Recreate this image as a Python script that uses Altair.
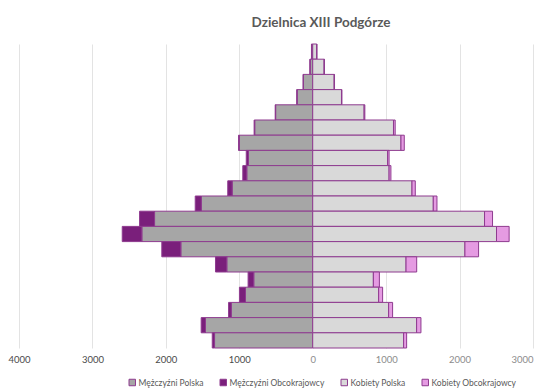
import altair as alt
import pandas as pd

ages = ["95+", "90-94", "85-89", "80-84", "75-79", "70-74", "65-69", "60-64", "55-59", "50-54",
        "45-49", "40-44", "35-39", "30-34", "25-29", "20-24", "15-19", "10-14", "5-9", "0-4"]
men_pl = [15, 35, 127, 212, 505, 790, 1000, 875, 898, 1097, 1518, 2154, 2327, 1796, 1170, 803, 916, 1110, 1460, 1337]
men_fg = [2, 3, 4, 5, 6, 8, 10, 30, 54, 60, 82, 204, 267, 259, 154, 77, 82, 36, 59, 31]
women_pl = [54, 155, 292, 392, 700, 1100, 1202, 1020, 1040, 1352, 1642, 2340, 2503, 2073, 1271, 826, 898, 1034, 1415, 1238]
women_fg = [3, 5, 5, 6, 10, 23, 45, 20, 25, 45, 50, 109, 172, 186, 145, 82, 54, 54, 59, 41]

series = ["Mężczyźni Polska", "Mężczyźni Obcokrajowcy", "Kobiety Polska", "Kobiety Obcokrajowcy"]
colors = ["#a6a6a6", "#7a1f7b", "#d9d9d9", "#e59be2"]
ticks = [-4000, -3000, -2000, -1000, 0, 1000, 2000, 3000]

rows = []
for i, a in enumerate(ages):
    rows.append({"age": a, "series": series[0], "value": -men_pl[i], "ord": 0})
    rows.append({"age": a, "series": series[1], "value": -men_fg[i], "ord": 1})
    rows.append({"age": a, "series": series[2], "value": women_pl[i], "ord": 0})
    rows.append({"age": a, "series": series[3], "value": women_fg[i], "ord": 1})
df = pd.DataFrame(rows)

chart = alt.Chart(df).mark_bar(stroke="#8e3b8f", strokeWidth=1).encode(
    x=alt.X("value:Q", stack="zero", title=None,
            scale=alt.Scale(domain=[-4000, 3000], nice=False, zero=False),
            axis=alt.Axis(values=ticks, labelExpr="format(abs(datum.value), 'd')",
                          ticks=False, domain=False, grid=True, gridColor="#e3e3e3",
                          labelFlush=False, labelBound=False,
                          labelAlign={"condition": {"test": "datum.value >= 3000", "value": "right"},
                                      "value": "center"},
                          labelFont="Lato", labelFontSize=9.5, labelPadding=6,
                          labelColor={"condition": {"test": "datum.value < 0", "value": "#4a4a4a"},
                                      "value": "#8c8c8c"})),
    y=alt.Y("age:N", sort=ages, axis=None,
            scale=alt.Scale(paddingInner=0, paddingOuter=0)),
    color=alt.Color("series:N", scale=alt.Scale(domain=series, range=colors),
                    legend=alt.Legend(title=None, orient="none", direction="horizontal",
                                      legendX=109, legendY=334, symbolType="square",
                                      symbolSize=42, symbolStrokeColor="#8e3b8f",
                                      symbolStrokeWidth=1, labelFont="Lato", labelFontSize=8.5,
                                      labelColor="#595959", columnPadding=14, labelOffset=2)),
    order=alt.Order("ord:Q"),
).properties(
    width=514, height=304,
    title=alt.TitleParams("Dzielnica XIII Podgórze", font="Lato", fontSize=13.5, fontWeight="bold",
                          color="#595959", anchor="middle", dx=45, offset=14),
    autosize=alt.AutoSizeParams(type="none"),
    padding={"left": 11, "top": 36, "right": 4, "bottom": 40},
).configure_view(stroke=None)

chart.save("out.html", embed_options={"renderer": "svg", "actions": False})
